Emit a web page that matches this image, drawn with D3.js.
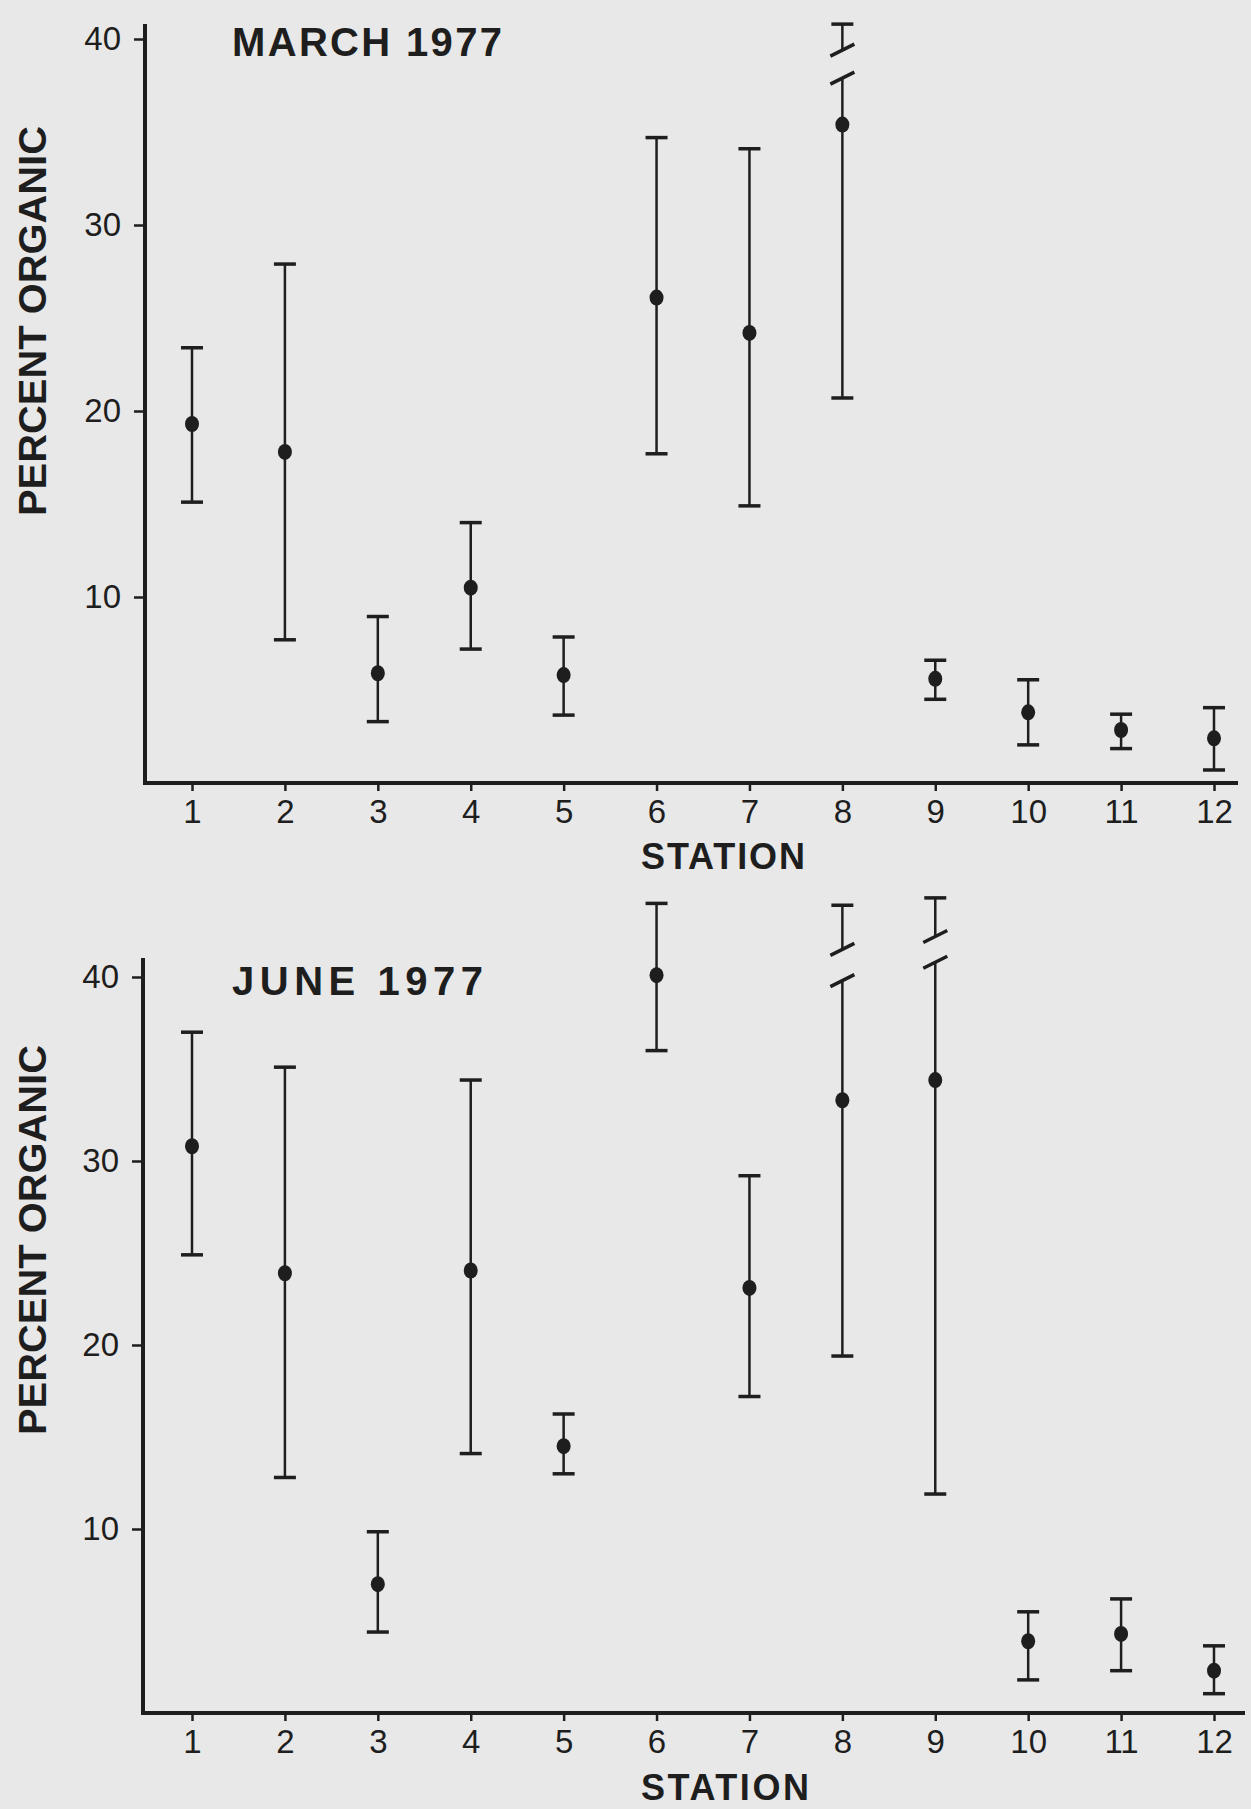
<!DOCTYPE html>
<html>
<head>
<meta charset="utf-8">
<script src="https://cdn.jsdelivr.net/npm/d3@7"></script>
<style>
  html, body { margin: 0; padding: 0; background: #e8e8e8; }
  svg { display: block; }
  .tick text { font-family: "Liberation Sans", Arial, sans-serif; font-size: 33px; fill: #1e1e1e; }
  .tick line { stroke: #1e1e1e; stroke-width: 2.5; }
  .lbl { font-family: "Liberation Sans", Arial, sans-serif; font-weight: bold; fill: #1e1e1e; }
</style>
</head>
<body>
<svg id="chart" width="1251" height="1809"></svg>
<script>
const stations = [1, 2, 3, 4, 5, 6, 7, 8, 9, 10, 11, 12];
const yTicks = [10, 20, 30, 40];

// March 1977
const marchMean = [19.3, 17.8, 5.9, 10.5, 5.8, 26.1, 24.2, 35.4, 5.6, 3.8, 2.85, 2.4];
const marchLow  = [15.1, 7.7, 3.3, 7.2, 3.65, 17.7, 14.9, 20.7, 4.5, 2.05, 1.85, 0.7];
const marchHigh = [23.4, 27.9, 8.95, 14.0, 7.85, 34.7, 34.1, 40.8, 6.6, 5.55, 3.7, 4.05];
const marchBreaks = [{ station: 8, lower: 37.9, upper: 39.4 }];

// June 1977
const juneMean = [30.8, 23.9, 7.0, 24.05, 14.5, 40.1, 23.1, 33.3, 34.4, 3.9, 4.3, 2.3];
const juneLow  = [24.9, 12.8, 4.4, 14.1, 13.0, 36.0, 17.2, 19.4, 11.9, 1.8, 2.3, 1.05];
const juneHigh = [37.0, 35.1, 9.85, 34.4, 16.25, 44.0, 29.2, 43.9, 44.3, 5.5, 6.2, 3.65];
const juneBreaks = [{ station: 8, lower: 39.8, upper: 41.5 }, { station: 9, lower: 40.8, upper: 42.2 }];

const ink = "#1e1e1e";
const svg = d3.select("#chart");

translate = function(a, b) {
  return "translate(" + a + ", " + b + ")";
}

panel = function(opt) {
  const x = d3.scaleLinear().domain([1, 12]).range([192, 1214]);
  const y = d3.scaleLinear().domain([0, 40]).range([opt.bottom, opt.top]);
  const g = svg.append("g");

  // axes
  const yAxis = d3.axisLeft(y).tickValues(yTicks).tickSize(11).tickPadding(13).tickFormat(d3.format("d"));
  g.append("g").attr("transform", translate(opt.left, 0)).call(yAxis)
    .call(a => a.select(".domain").remove());

  const xAxis = d3.axisBottom(x).tickValues(stations).tickSize(8).tickPadding(9).tickFormat(d3.format("d"));
  g.append("g").attr("transform", translate(0, opt.bottom)).call(xAxis)
    .call(a => a.select(".domain").remove());

  g.append("path")
    .attr("d", "M" + opt.left + "," + opt.axisTop + "V" + opt.bottom + "H" + opt.right)
    .attr("fill", "none")
    .attr("stroke", ink)
    .attr("stroke-width", 4);

  const data = stations.map((s, i) => ({
    s: s, m: opt.mean[i], lo: opt.low[i], hi: opt.high[i],
    br: opt.breaks.find(b => b.station === s)
  }));

  const bars = g.selectAll("g.bar").data(data).enter().append("g").attr("class", "bar");

  // vertical line (stops at break if any)
  bars.append("line")
    .attr("x1", d => x(d.s)).attr("x2", d => x(d.s))
    .attr("y1", d => y(d.lo))
    .attr("y2", d => y(d.br ? d.br.lower : d.hi))
    .attr("stroke", ink).attr("stroke-width", 2.5);

  // lower cap
  bars.append("line")
    .attr("x1", d => x(d.s) - 11).attr("x2", d => x(d.s) + 11)
    .attr("y1", d => y(d.lo)).attr("y2", d => y(d.lo))
    .attr("stroke", ink).attr("stroke-width", 3.5);

  // upper cap
  bars.append("line")
    .attr("x1", d => x(d.s) - 11).attr("x2", d => x(d.s) + 11)
    .attr("y1", d => y(d.hi)).attr("y2", d => y(d.hi))
    .attr("stroke", ink).attr("stroke-width", 3.5);

  // broken bars: slash on lower part, short piece above
  const broken = bars.filter(d => d.br);
  broken.append("line")
    .attr("x1", d => x(d.s) - 12).attr("x2", d => x(d.s) + 12)
    .attr("y1", d => y(d.br.lower) + 6).attr("y2", d => y(d.br.lower) - 6)
    .attr("stroke", ink).attr("stroke-width", 3.5);
  broken.append("line")
    .attr("x1", d => x(d.s) - 12).attr("x2", d => x(d.s) + 12)
    .attr("y1", d => y(d.br.upper) + 6).attr("y2", d => y(d.br.upper) - 6)
    .attr("stroke", ink).attr("stroke-width", 3.5);
  broken.append("line")
    .attr("x1", d => x(d.s)).attr("x2", d => x(d.s))
    .attr("y1", d => y(d.br.upper)).attr("y2", d => y(d.hi))
    .attr("stroke", ink).attr("stroke-width", 2.5);

  // means
  bars.append("ellipse")
    .attr("cx", d => x(d.s)).attr("cy", d => y(d.m))
    .attr("rx", 7).attr("ry", 8)
    .attr("fill", ink);

  // title
  g.append("text").attr("class", "lbl")
    .attr("x", 232).attr("y", opt.titleY)
    .attr("font-size", 40)
    .attr("textLength", opt.titleLen).attr("lengthAdjust", "spacing")
    .text(opt.title);

  // y label
  g.append("text").attr("class", "lbl")
    .attr("transform", translate(46, opt.ylabY) + " rotate(-90)")
    .attr("text-anchor", "middle")
    .attr("font-size", 38)
    .attr("textLength", 390).attr("lengthAdjust", "spacingAndGlyphs")
    .text("PERCENT ORGANIC");

  // x label
  g.append("text").attr("class", "lbl")
    .attr("x", 641).attr("y", opt.xlabY)
    .attr("font-size", 36)
    .attr("textLength", opt.xlabLen).attr("lengthAdjust", "spacing")
    .text("STATION");
}

panel({
  top: 39, bottom: 783, left: 145, right: 1238, axisTop: 24,
  mean: marchMean, low: marchLow, high: marchHigh, breaks: marchBreaks,
  title: "MARCH 1977", titleY: 56, titleLen: 270,
  ylabY: 321, xlabY: 869, xlabLen: 164
});

panel({
  top: 977, bottom: 1713, left: 143, right: 1245, axisTop: 958,
  mean: juneMean, low: juneLow, high: juneHigh, breaks: juneBreaks,
  title: "JUNE 1977", titleY: 995, titleLen: 251,
  ylabY: 1240, xlabY: 1800, xlabLen: 168
});
</script>
</body>
</html>
